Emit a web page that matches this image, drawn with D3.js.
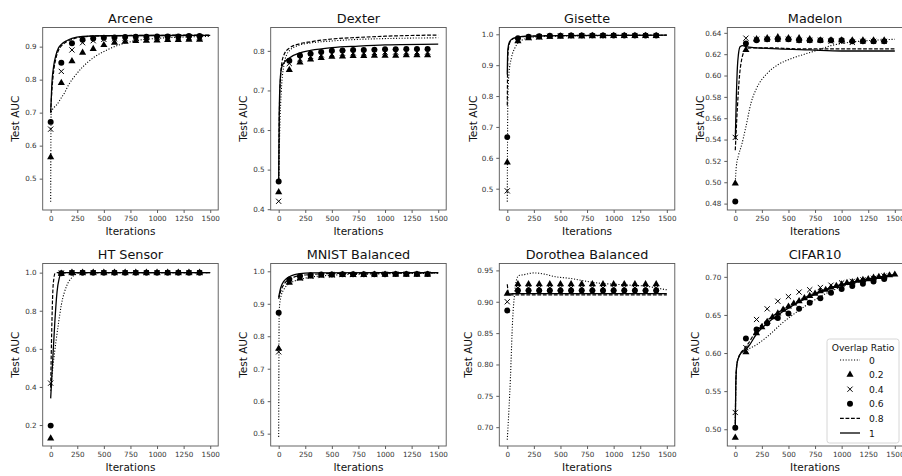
<!DOCTYPE html>
<html><head><meta charset="utf-8">
<script src="https://cdn.jsdelivr.net/npm/d3@7"></script>
<style>body{margin:0;background:#fff} text{font-family:"DejaVu Sans",sans-serif}</style>
</head><body><svg id="c" width="902" height="476"></svg>
<script>
// ---------- shared ----------
const markerIters = [0,100,200,300,400,500,600,700,800,900,1000,1100,1200,1300,1400];
const xTicks = [0,250,500,750,1000,1250,1500];
const seriesNames = ["0","0.2","0.4","0.6","0.8","1"];
const titles = ["Arcene","Dexter","Gisette","Madelon","HT Sensor","MNIST Balanced","Dorothea Balanced","CIFAR10"];

// ---------- Arcene ----------
const arcene0 = [[0,0.43],[4,0.70],[30,0.715],[60,0.725],[90,0.74],[130,0.76],[170,0.785],[220,0.808],[300,0.838],[400,0.866],[530,0.89],[650,0.906],[800,0.918],[1000,0.925],[1250,0.929],[1500,0.931]];
const arcene02 = [0.565,0.79,0.856,0.882,0.893,0.905,0.912,0.915,0.917,0.918,0.919,0.92,0.92,0.921,0.921];
const arcene04 = [0.65,0.825,0.89,0.912,0.918,0.922,0.924,0.926,0.927,0.928,0.928,0.929,0.929,0.929,0.93];
const arcene06 = [0.672,0.851,0.91,0.921,0.925,0.927,0.928,0.929,0.93,0.93,0.931,0.931,0.931,0.932,0.932];
const arcene08 = [[0,0.70],[10,0.76],[30,0.83],[50,0.865],[75,0.89],[100,0.902],[150,0.915],[200,0.922],[300,0.93],[500,0.933],[1500,0.935]];
const arcene1 = [[0,0.70],[10,0.78],[30,0.845],[50,0.875],[75,0.897],[100,0.907],[150,0.918],[200,0.925],[300,0.931],[500,0.933],[1500,0.934]];

// ---------- Dexter ----------
const dexter0 = [[0,0.47],[10,0.6],[25,0.7],[50,0.765],[75,0.79],[100,0.8],[150,0.81],[200,0.815],[300,0.82],[500,0.825],[750,0.829],[1000,0.831],[1500,0.833]];
const dexter02 = [0.443,0.752,0.771,0.778,0.782,0.785,0.786,0.787,0.787,0.788,0.788,0.788,0.789,0.789,0.789];
const dexter04 = [0.42,0.768,0.78,0.786,0.79,0.792,0.794,0.795,0.795,0.796,0.797,0.797,0.797,0.797,0.797];
const dexter06 = [0.47,0.775,0.788,0.793,0.797,0.8,0.801,0.802,0.802,0.803,0.804,0.804,0.805,0.805,0.805];
const dexter08 = [[0,0.47],[5,0.62],[15,0.72],[30,0.77],[50,0.79],[100,0.807],[200,0.818],[300,0.823],[500,0.83],[750,0.834],[1000,0.837],[1500,0.84]];
const dexter1 = [[0,0.47],[5,0.64],[15,0.73],[30,0.76],[50,0.77],[100,0.782],[200,0.795],[300,0.801],[500,0.808],[750,0.812],[1000,0.815],[1500,0.817]];

// ---------- Gisette ----------
const gisette0 = [[0,0.458],[5,0.78],[15,0.87],[40,0.925],[70,0.955],[100,0.972],[150,0.983],[200,0.988],[300,0.992],[500,0.994],[1000,0.996],[1500,0.997]];
const gisette02 = [0.585,0.978,0.987,0.99,0.992,0.993,0.994,0.994,0.995,0.995,0.995,0.995,0.995,0.995,0.995];
const gisette04 = [0.493,0.982,0.99,0.992,0.993,0.994,0.995,0.995,0.995,0.995,0.996,0.996,0.996,0.996,0.996];
const gisette06 = [0.667,0.987,0.992,0.994,0.995,0.995,0.996,0.996,0.996,0.996,0.996,0.996,0.996,0.996,0.996];
const gisette08 = [[0,0.77],[5,0.93],[20,0.97],[50,0.985],[100,0.99],[200,0.994],[500,0.996],[1500,0.997]];
const gisette1 = [[0,0.87],[5,0.95],[20,0.975],[50,0.986],[100,0.991],[200,0.994],[500,0.996],[1500,0.997]];

// ---------- Madelon ----------
const madelon0 = [[0,0.50],[10,0.515],[30,0.525],[60,0.535],[100,0.552],[150,0.575],[200,0.588],[300,0.602],[400,0.61],[530,0.616],[650,0.62],[780,0.624],[900,0.628],[1000,0.63],[1150,0.632],[1300,0.633],[1500,0.634]];
const madelon02 = [0.499,0.624,0.634,0.635,0.636,0.635,0.635,0.634,0.633,0.633,0.633,0.633,0.633,0.633,0.633];
const madelon04 = [0.542,0.635,0.634,0.634,0.634,0.634,0.633,0.633,0.633,0.632,0.632,0.631,0.632,0.632,0.632];
const madelon06 = [0.482,0.63,0.633,0.634,0.634,0.634,0.633,0.633,0.633,0.633,0.633,0.632,0.632,0.632,0.632];
const madelon08 = [[0,0.53],[20,0.57],[40,0.6],[60,0.615],[80,0.622],[100,0.625],[150,0.626],[300,0.626],[600,0.625],[1000,0.625],[1500,0.625]];
const madelon1 = [[0,0.54],[10,0.58],[20,0.608],[30,0.62],[45,0.627],[70,0.628],[100,0.627],[200,0.626],[400,0.625],[700,0.624],[1000,0.623],[1500,0.623]];

// ---------- HT Sensor ----------
const ht0 = [[0,0.38],[20,0.5],[50,0.64],[75,0.74],[100,0.83],[150,0.93],[200,0.975],[250,0.995],[300,1.0],[1500,1.0]];
const ht02 = [0.13,0.995,1.0,1.0,1.0,1.0,1.0,1.0,1.0,1.0,1.0,1.0,1.0,1.0,1.0];
const ht04 = [0.42,0.998,1.0,1.0,1.0,1.0,1.0,1.0,1.0,1.0,1.0,1.0,1.0,1.0,1.0];
const ht06 = [0.197,0.997,1.0,1.0,1.0,1.0,1.0,1.0,1.0,1.0,1.0,1.0,1.0,1.0,1.0];
const ht08 = [[0,0.4],[10,0.7],[20,0.9],[30,0.97],[40,0.995],[60,1.0],[1500,1.0]];
const ht1 = [[0,0.34],[20,0.55],[40,0.75],[60,0.9],[80,0.97],[100,0.995],[150,1.0],[1500,1.0]];

// ---------- MNIST Balanced ----------
const mnist0 = [[0,0.49],[5,0.88],[20,0.92],[50,0.945],[100,0.962],[150,0.97],[200,0.975],[300,0.982],[500,0.988],[800,0.991],[1500,0.994]];
const mnist02 = [0.762,0.965,0.978,0.984,0.987,0.988,0.989,0.989,0.989,0.99,0.99,0.99,0.99,0.99,0.99];
const mnist04 = [0.752,0.97,0.98,0.985,0.987,0.989,0.99,0.99,0.99,0.99,0.991,0.991,0.991,0.991,0.991];
const mnist06 = [0.872,0.975,0.985,0.988,0.99,0.99,0.991,0.991,0.991,0.991,0.991,0.992,0.992,0.992,0.992];
const mnist08 = [[0,0.915],[20,0.94],[50,0.96],[100,0.975],[150,0.983],[200,0.987],[300,0.99],[500,0.993],[1500,0.995]];
const mnist1 = [[0,0.92],[20,0.95],[50,0.97],[100,0.983],[150,0.99],[200,0.993],[300,0.995],[1500,0.996]];

// ---------- Dorothea Balanced ----------
const doro0 = [[0,0.68],[30,0.78],[50,0.87],[70,0.915],[90,0.937],[110,0.942],[150,0.943],[250,0.946],[350,0.944],[450,0.94],[600,0.937],[700,0.934],[800,0.931],[900,0.929],[1000,0.928],[1200,0.926],[1300,0.925],[1400,0.922],[1500,0.919]];
const doro02 = [0.913,0.928,0.928,0.928,0.928,0.928,0.928,0.928,0.928,0.928,0.928,0.928,0.928,0.928,0.928];
const doro04 = [0.9,0.922,0.922,0.922,0.922,0.922,0.922,0.922,0.922,0.922,0.922,0.922,0.922,0.922,0.922];
const doro06 = [0.886,0.918,0.918,0.918,0.918,0.918,0.918,0.918,0.918,0.918,0.918,0.918,0.918,0.918,0.918];
const doro08 = [[0,0.928],[10,0.915],[30,0.911],[1500,0.911]];
const doro1 = [[0,0.912],[50,0.913],[1500,0.913]];

// ---------- CIFAR10 ----------
const cifarTriIters = [0,100,200,250,300,350,400,450,500,550,600,650,700,750,800,850,900,950,1000,1050,1100,1150,1200,1250,1300,1350,1400,1450,1500];
const cifar0 = [[0,0.50],[5,0.56],[15,0.585],[40,0.597],[80,0.603],[150,0.607],[200,0.611],[330,0.625],[430,0.638],[530,0.649],[650,0.661],[750,0.67],[850,0.678],[1000,0.687],[1200,0.695],[1500,0.703]];
const cifar02 = [0.489,0.601,0.626,0.634,0.641,0.647,0.652,0.657,0.661,0.665,0.668,0.672,0.675,0.678,0.681,0.683,0.686,0.688,0.69,0.692,0.693,0.695,0.696,0.697,0.699,0.7,0.701,0.702,0.703];
const cifar04 = [0.522,0.607,0.644,0.658,0.668,0.674,0.68,0.683,0.686,0.689,0.692,0.694,0.696,0.698,0.701];
const cifar06 = [0.502,0.619,0.631,0.639,0.646,0.652,0.658,0.666,0.672,0.679,0.684,0.688,0.691,0.694,0.697];
const cifar08 = [[0,0.50],[5,0.56],[15,0.585],[40,0.597],[80,0.605],[120,0.612],[200,0.63],[300,0.643],[400,0.653],[500,0.662],[600,0.669],[700,0.676],[800,0.681],[900,0.686],[1000,0.69],[1200,0.696],[1500,0.703]];
const cifar1 = [[0,0.50],[5,0.56],[15,0.585],[40,0.597],[80,0.603],[120,0.608],[200,0.625],[300,0.639],[400,0.65],[500,0.659],[600,0.667],[700,0.674],[800,0.68],[900,0.685],[1000,0.689],[1200,0.696],[1500,0.702]];

// ---------- y ticks ----------
const yTicksArcene = [0.5,0.6,0.7,0.8,0.9];
const yTicksDexter = [0.4,0.5,0.6,0.7,0.8];
const yTicksGisette = [0.5,0.6,0.7,0.8,0.9,1.0];
const yTicksMadelon = [0.48,0.50,0.52,0.54,0.56,0.58,0.60,0.62,0.64];
const yTicksHT = [0.2,0.4,0.6,0.8,1.0];
const yTicksMnist = [0.5,0.6,0.7,0.8,0.9,1.0];
const yTicksDoro = [0.70,0.75,0.80,0.85,0.90,0.95];
const yTicksCifar = [0.50,0.55,0.60,0.65,0.70];

// ---------- panel table built from the arrays ----------
const panels = [
  {title:titles[0], s:[arcene0,arcene02,arcene04,arcene06,arcene08,arcene1], mi:[markerIters,markerIters,markerIters], yd:[0.405,0.958], yt:yTicksArcene, fmt:".1f", yl:27.5},
  {title:titles[1], s:[dexter0,dexter02,dexter04,dexter06,dexter08,dexter1], mi:[markerIters,markerIters,markerIters], yd:[0.398,0.859], yt:yTicksDexter, fmt:".1f", yl:27.5},
  {title:titles[2], s:[gisette0,gisette02,gisette04,gisette06,gisette08,gisette1], mi:[markerIters,markerIters,markerIters], yd:[0.431,1.022], yt:yTicksGisette, fmt:".1f", yl:26.5},
  {title:titles[3], s:[madelon0,madelon02,madelon04,madelon06,madelon08,madelon1], mi:[markerIters,markerIters,markerIters], yd:[0.474,0.645], yt:yTicksMadelon, fmt:".2f", yl:27.5},
  {title:titles[4], s:[ht0,ht02,ht04,ht06,ht08,ht1], mi:[markerIters,markerIters,markerIters], yd:[0.09,1.048], yt:yTicksHT, fmt:".1f", yl:27.5},
  {title:titles[5], s:[mnist0,mnist02,mnist04,mnist06,mnist08,mnist1], mi:[markerIters,markerIters,markerIters], yd:[0.462,1.024], yt:yTicksMnist, fmt:".1f", yl:27.5},
  {title:titles[6], s:[doro0,doro02,doro04,doro06,doro08,doro1], mi:[markerIters,markerIters,markerIters], yd:[0.670,0.961], yt:yTicksDoro, fmt:".2f", yl:31},
  {title:titles[7], s:[cifar0,cifar02,cifar04,cifar06,cifar08,cifar1], mi:[cifarTriIters,markerIters,markerIters], yd:[0.478,0.7175], yt:yTicksCifar, fmt:".2f", yl:32}
];

const colLeft = [42.7,270.7,499.3,727.3];
const rowTop = [27.5,263.5];
const pw = 175.5, ph = 182.5;

const svg = d3.select("#c");
svg.append("rect").attr("width",902).attr("height",476).attr("fill","#fff");

const triPath = d3.symbol().type(d3.symbolTriangle).size(22)();
const circPath = d3.symbol().type(d3.symbolCircle).size(28)();
const xs = 2.6;
const crossPath = `M${-xs},${-xs}L${xs},${xs}M${-xs},${xs}L${xs},${-xs}`;

const lineStyles = {
  "0": {dash:"1.1,1.7", w:1.1},
  "0.8": {dash:"3.8,1.7", w:1.2},
  "1": {dash:null, w:1.3}
};

function drawMarkers(g, pts, type){
  const sel = g.append("g").selectAll("path").data(pts).join("path")
    .attr("transform", d => `translate(${d[0]},${d[1]})`);
  if (type === "tri") sel.attr("d", triPath).attr("fill","#000");
  else if (type === "circ") sel.attr("d", circPath).attr("fill","#000");
  else sel.attr("d", crossPath).attr("fill","none").attr("stroke","#000").attr("stroke-width",1);
}

panels.forEach((p, i) => {
  const left = colLeft[i % 4], top = rowTop[Math.floor(i / 4)];
  const g = svg.append("g").attr("transform", `translate(${left},${top})`);
  const x = d3.scaleLinear().domain([-75,1575]).range([0,pw]);
  const y = d3.scaleLinear().domain(p.yd).range([ph,0]);

  const clipId = "clip" + i;
  g.append("clipPath").attr("id", clipId).append("rect").attr("width", pw).attr("height", ph);
  const plot = g.append("g").attr("clip-path", `url(#${clipId})`);

  const line = d3.line().x(d => x(d[0])).y(d => y(d[1])).curve(d3.curveMonotoneX);
  const drawLine = (data, key) => {
    const st = lineStyles[key];
    plot.append("path").attr("d", line(data)).attr("fill","none").attr("stroke","#000")
      .attr("stroke-width", st.w).attr("stroke-dasharray", st.dash);
  };
  // order as in legend
  drawLine(p.s[0], "0");
  drawMarkers(plot, p.s[1].map((v,k) => [x(p.mi[0][k]), y(v)]), "tri");
  drawMarkers(plot, p.s[2].map((v,k) => [x(p.mi[1][k]), y(v)]), "x");
  drawMarkers(plot, p.s[3].map((v,k) => [x(p.mi[2][k]), y(v)]), "circ");
  drawLine(p.s[4], "0.8");
  drawLine(p.s[5], "1");

  // axes
  const ax = g.append("g").attr("transform", `translate(0,${ph})`)
    .call(d3.axisBottom(x).tickValues(xTicks).tickSize(3).tickPadding(3).tickFormat(d3.format("d")));
  const ay = g.append("g")
    .call(d3.axisLeft(y).tickValues(p.yt).tickSize(3).tickPadding(3).tickFormat(d3.format(p.fmt)));
  [ax, ay].forEach(a => {
    a.select(".domain").remove();
    a.selectAll("line").attr("stroke","#333").attr("stroke-width",0.8);
    a.selectAll("text").attr("font-size", 7.2).attr("fill","#333").attr("font-family","DejaVu Sans");
  });

  g.append("rect").attr("width", pw).attr("height", ph).attr("fill","none")
    .attr("stroke","#555").attr("stroke-width",0.9);

  g.append("text").attr("x", pw/2).attr("y", -4.5).attr("text-anchor","middle")
    .attr("font-size", 12.8).attr("fill","#111").text(p.title);
  g.append("text").attr("x", pw/2).attr("y", ph + 25).attr("text-anchor","middle")
    .attr("font-size", 10.5).attr("fill","#111").text("Iterations");
  g.append("text").attr("transform", `translate(${-p.yl},${ph/2}) rotate(-90)`)
    .attr("text-anchor","middle").attr("dominant-baseline","central")
    .attr("font-size", 10.5).attr("fill","#111").text("Test AUC");
});

// legend in CIFAR10 panel
const lg = svg.append("g");
lg.append("rect").attr("x", 827).attr("y", 339).attr("width", 72).attr("height", 104)
  .attr("rx", 2.5).attr("fill","#fff").attr("fill-opacity",0.85).attr("stroke","#ccc").attr("stroke-width",0.8);
lg.append("text").attr("x", 863).attr("y", 351).attr("text-anchor","middle")
  .attr("font-size", 9.2).attr("fill","#111").text("Overlap Ratio");
seriesNames.forEach((name, k) => {
  const cy = 360 + k * 14.6;
  const hx0 = 840, hx1 = 860, hc = 850;
  if (name === "0" || name === "0.8" || name === "1") {
    const st = lineStyles[name];
    lg.append("line").attr("x1", hx0).attr("x2", hx1).attr("y1", cy).attr("y2", cy)
      .attr("stroke","#000").attr("stroke-width", st.w).attr("stroke-dasharray", st.dash);
  } else {
    const type = name === "0.2" ? "tri" : name === "0.4" ? "x" : "circ";
    drawMarkers(lg, [[hc, cy]], type);
  }
  lg.append("text").attr("x", 869).attr("y", cy).attr("dominant-baseline","central")
    .attr("font-size", 9.2).attr("fill","#111").text(name);
});
</script>
</body></html>
